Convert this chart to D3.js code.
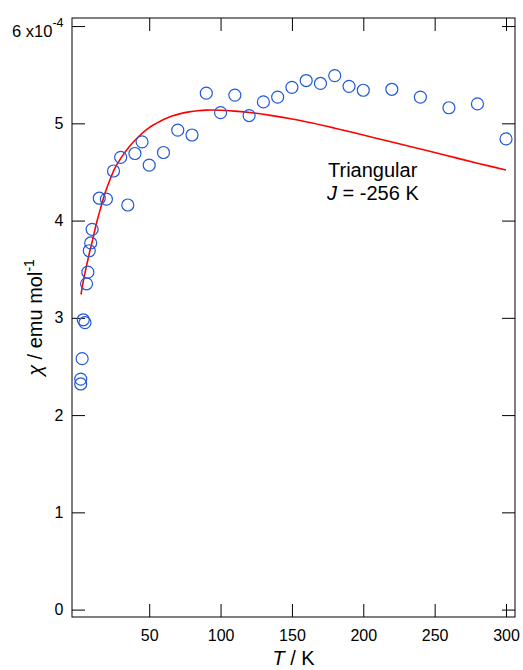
<!DOCTYPE html>
<html>
<head>
<meta charset="utf-8">
<script src="https://cdn.jsdelivr.net/npm/d3@7"></script>
<style>
  html, body { margin: 0; padding: 0; background: #fff; }
  svg { display: block; font-family: "Liberation Sans", Arial, sans-serif; }
</style>
</head>
<body>
<svg id="chart" width="523" height="670"></svg>
<script>
// Measured susceptibility (units of 1e-4 emu/mol) vs temperature (K)
const temps = [2, 2, 3, 3.8, 5, 6.1, 7, 8, 9, 10, 15, 20, 25, 30, 35, 40, 45, 50, 60, 70, 80,
               90, 100, 110, 120, 130, 140, 150, 160, 170, 180, 190, 200, 220, 240, 260, 280, 300];
const chi   = [2.32, 2.37, 2.58, 2.98, 2.95, 3.35, 3.47, 3.69, 3.77, 3.91, 4.23, 4.22, 4.51, 4.65, 4.16, 4.69, 4.81, 4.57, 4.70, 4.93, 4.88,
               5.31, 5.11, 5.29, 5.08, 5.22, 5.27, 5.37, 5.44, 5.41, 5.49, 5.38, 5.34, 5.35, 5.27, 5.16, 5.20, 4.84];

// Triangular-lattice model curve, J = -256 K
const fitT   = [2.2, 4, 6, 8, 10, 13, 16, 19, 22.5, 26, 31, 36, 43, 50, 55, 60, 66, 72, 78, 84, 90, 100,
                110, 122, 135, 150, 165, 180, 200, 215, 235, 250, 265, 280, 300];
const fitChi = [3.24, 3.39, 3.53, 3.66, 3.78, 3.97, 4.13, 4.28, 4.42, 4.54, 4.66, 4.76, 4.87, 4.955, 5.0, 5.04, 5.075, 5.10, 5.118, 5.13, 5.136, 5.135,
                5.125, 5.108, 5.082, 5.045, 5.0, 4.95, 4.88, 4.825, 4.755, 4.70, 4.645, 4.59, 4.52];

const xTicks = [50, 100, 150, 200, 250, 300];
const yTicks = [0, 1, 2, 3, 4, 5, 6];

const svg = d3.select("#chart");
const L = 72, R = 515, T = 18, B = 617;

const x = d3.scaleLinear().domain([-4.1, 306.3]).range([L, R]);
const y = d3.scaleLinear().domain([-0.076, 6.083]).range([B, T]);

const tick = 13;

// Bottom axis with labels
const gB = svg.append("g").attr("transform", `translate(0,${B})`)
  .call(d3.axisBottom(x).tickValues(xTicks).tickSize(-tick).tickPadding(13).tickFormat(d3.format("d")));
// Left axis with labels
const gL = svg.append("g").attr("transform", `translate(${L},0)`)
  .call(d3.axisLeft(y).tickValues(yTicks).tickSize(-tick).tickPadding(8.5).tickFormat(d3.format("d")));
// Mirror ticks on top and right
const gT = svg.append("g").attr("transform", `translate(0,${T})`)
  .call(d3.axisTop(x).tickValues(xTicks).tickSize(-tick).tickFormat(""));
const gR = svg.append("g").attr("transform", `translate(${R},0)`)
  .call(d3.axisRight(y).tickValues(yTicks).tickSize(-tick).tickFormat(""));

[gB, gL, gT, gR].forEach(g => {
  g.select(".domain").remove();
  g.selectAll(".tick line").attr("stroke", "#000").attr("stroke-width", 1);
  g.selectAll(".tick text").attr("fill", "#000").attr("font-size", 16)
    .attr("font-family", "Liberation Sans, Arial, sans-serif");
});

// Exponent on the top y label
gL.selectAll(".tick text").filter(d => d === 6)
  .text(null)
  .attr("dy", "0.64em")
  .call(t => {
    t.append("tspan").text("6 x10").attr("font-size", 16.5);
    t.append("tspan").text("-4").attr("font-size", 12.5).attr("dy", "-0.8em");
  });

// Frame
svg.append("rect").attr("x", L).attr("y", T).attr("width", R - L).attr("height", B - T)
  .attr("fill", "none").attr("stroke", "#000").attr("stroke-width", 1);

// Model curve
const line = d3.line().x((d, i) => x(fitT[i])).y(d => y(d)).curve(d3.curveCatmullRom.alpha(0.5));
svg.append("path").datum(fitChi).attr("d", line)
  .attr("fill", "none").attr("stroke", "#ff0000").attr("stroke-width", 1.6);

// Data points
svg.append("g").selectAll("circle").data(chi).join("circle")
  .attr("cx", (d, i) => x(temps[i])).attr("cy", d => y(d)).attr("r", 6)
  .attr("fill", "none").attr("stroke", "#2259da").attr("stroke-width", 1.2);

// Axis titles
const xt = svg.append("text").attr("x", (L + R) / 2).attr("y", 665).attr("text-anchor", "middle")
  .attr("font-size", 20).attr("fill", "#000");
xt.append("tspan").attr("font-style", "italic").text("T");
xt.append("tspan").text(" / K");

const yt = svg.append("text").attr("transform", `translate(42,${(T + B) / 2}) rotate(-90)`)
  .attr("text-anchor", "middle").attr("font-size", 20).attr("fill", "#000");
yt.append("tspan").attr("font-style", "italic").text("χ");
yt.append("tspan").text(" / emu mol");
yt.append("tspan").text("-1").attr("font-size", 14).attr("dy", "-0.6em");

// Annotation
const ann = svg.append("text").attr("x", 328).attr("y", 177).attr("font-size", 20).attr("fill", "#000");
ann.append("tspan").attr("x", 328).text("Triangular");
const l2 = svg.append("text").attr("x", 327).attr("y", 200).attr("font-size", 20).attr("fill", "#000");
l2.append("tspan").attr("font-style", "italic").text("J");
l2.append("tspan").text(" = -256 K");
</script>
</body>
</html>
